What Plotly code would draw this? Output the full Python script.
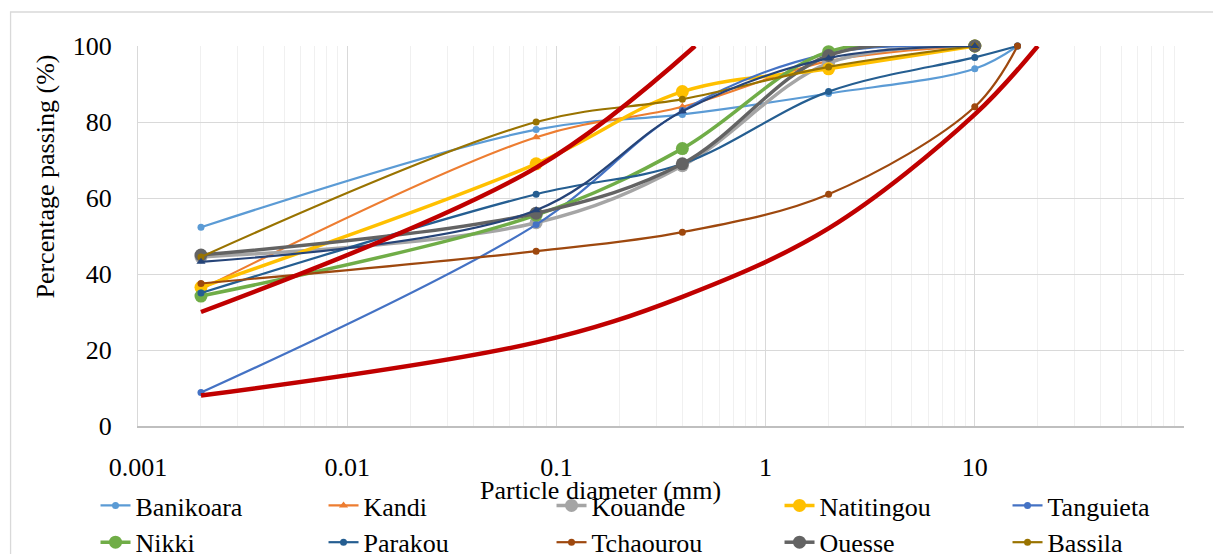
import plotly.graph_objects as go

# Particle sizes (mm)
sizes = [0.002, 0.08, 0.4, 2, 10]
sizes_ext = [0.002, 0.08, 0.4, 2, 10, 16]

banikoara = [52.3, 78, 82, 87.5, 94, 100]
kandi = [36, 76, 84, 96, 100]
kouande = [44.5, 53.5, 68.5, 95.5, 100]
natitingou = [36.5, 69, 88, 94, 100]
tanguieta = [8.8, 53, 83, 98, 100]
nikki = [34.2, 55.5, 73, 98.5, 100]
parakou = [35, 61, 69, 88, 97, 100]
tchaourou = [37.5, 46, 51, 61, 84, 100]
ouesse = [45, 56, 69, 97.5, 100]
bassila = [44.5, 80, 86, 94.5, 100]
series11 = [43.2, 56.8, 82.8, 96.8, 100]

upper_x = [0.002, 0.08, 0.46]
upper_y = [30, 68, 100]
lower_x = [0.002, 0.08, 0.4, 2, 10, 20]
lower_y = [8, 22, 34, 52, 82, 100]

x_tickvals = [0.001, 0.01, 0.1, 1, 10]
x_ticktext = ["0.001", "0.01", "0.1", "1", "10"]
y_tickvals = [0, 20, 40, 60, 80, 100]

FONT = "Liberation Serif, Times New Roman, serif"

fig = go.Figure()

def add(name, x, y, color, width, msize, symbol="circle", legend=True):
    fig.add_trace(go.Scatter(
        x=x, y=y, name=name, mode="lines+markers",
        line=dict(color=color, width=width, shape="spline", smoothing=1),
        marker=dict(color=color, size=msize, symbol=symbol),
        showlegend=legend, cliponaxis=False,
    ))

add("Banikoara", sizes_ext, banikoara, "#5B9BD5", 2.2, 7)
add("Kandi", sizes, kandi, "#ED7D31", 2.2, 8, "triangle-up")
add("Kouande", sizes, kouande, "#A5A5A5", 3.5, 13)
add("Natitingou", sizes, natitingou, "#FFC000", 3.5, 13)
add("Tanguieta", sizes, tanguieta, "#4472C4", 2.2, 7)
add("Nikki", sizes, nikki, "#70AD47", 3.5, 13)
add("Parakou", sizes_ext, parakou, "#255E91", 2.2, 7)
add("Tchaourou", sizes_ext, tchaourou, "#9E480E", 2.2, 7)
add("Ouesse", sizes, ouesse, "#636363", 3.5, 13)
add("Bassila", sizes, bassila, "#997300", 2.2, 7)
add("Series 11", sizes, series11, "#264478", 2.2, 8, "triangle-up", legend=False)

for nm, xx, yy in [("Upper limit", upper_x, upper_y), ("Lower limit", lower_x, lower_y)]:
    fig.add_trace(go.Scatter(
        x=xx, y=yy, name=nm, mode="lines",
        line=dict(color="#C00000", width=4.5, shape="spline", smoothing=1),
        showlegend=False,
    ))

# page has an 8px body margin: figure coords = page coords - 8
OFF = 8
W, H = 1221 - OFF, 554 - OFF
L = 137.5 - OFF
T = 46 - OFF
R = W - (1184 - OFF)
B = H - (426 - OFF)
pw, ph = W - L - R, H - T - B

def px(page_x):
    return (page_x - OFF - L) / pw

def py(page_y):
    return (H - B - (page_y - OFF)) / ph

fig.update_layout(
    width=W, height=H,
    margin=dict(l=L, r=R, t=T, b=B, autoexpand=False),
    paper_bgcolor="white", plot_bgcolor="white",
    font=dict(family=FONT, size=26, color="black"),
    xaxis=dict(
        type="log", range=[-3, 2],
        tickvals=x_tickvals, ticktext=x_ticktext,
        showgrid=True, gridcolor="#D9D9D9", gridwidth=1.3,
        minor=dict(showgrid=True, gridcolor="#F0F0F0", gridwidth=1.3, dtick="D1"),
        showline=True, linecolor="#BFBFBF", linewidth=1.5,
        zeroline=False, ticks="", ticklabelstandoff=17,
        tickfont=dict(family=FONT, size=26),
    ),
    yaxis=dict(
        range=[0, 100], tickvals=y_tickvals,
        showgrid=True, gridcolor="#D9D9D9", gridwidth=1.3,
        showline=True, linecolor="#D9D9D9", linewidth=1.3,
        zeroline=False, ticks="", ticklabelstandoff=20,
        tickfont=dict(family=FONT, size=26),
    ),
    legend=dict(
        orientation="h", x=px(95), xanchor="left", y=py(482), yanchor="top",
        entrywidth=183, entrywidthmode="pixels",
        font=dict(family=FONT, size=26), bgcolor="rgba(0,0,0,0)",
        tracegroupgap=0,
    ),
    annotations=[
        dict(text="Particle diameter (mm)", xref="paper", yref="paper",
             x=px(600), y=py(490), xanchor="center", yanchor="middle",
             showarrow=False, font=dict(family=FONT, size=26)),
        dict(text="Percentage passing (%)", xref="paper", yref="paper",
             x=px(45), y=py(177), xanchor="center", yanchor="middle",
             textangle=-90, showarrow=False, font=dict(family=FONT, size=26)),
    ],
    shapes=[
        dict(type="rect", xref="paper", yref="paper",
             x0=px(10), x1=px(1219), y0=py(580), y1=py(12),
             line=dict(color="#D9D9D9", width=1.3), fillcolor="rgba(0,0,0,0)",
             layer="below"),
    ],
)

fig.write_html("out.html")
